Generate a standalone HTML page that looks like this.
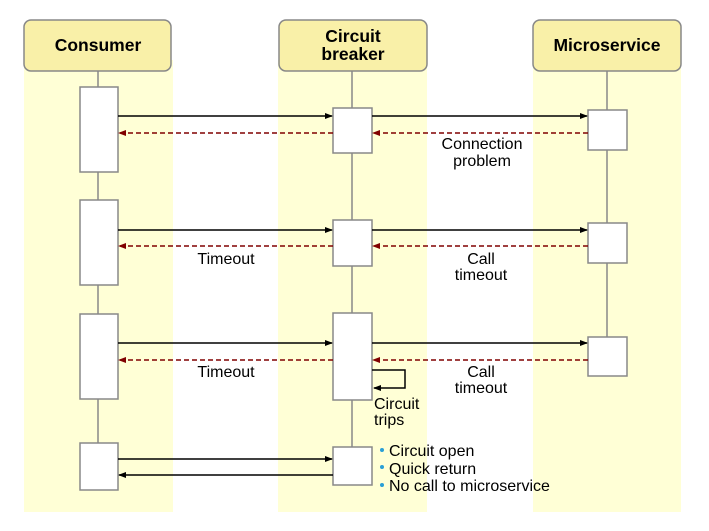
<!DOCTYPE html>
<html><head><meta charset="utf-8"><style>
html,body{margin:0;padding:0;background:#fff}
svg{display:block}
text{font-family:"Liberation Sans",sans-serif;font-size:16px;fill:#000}
.h{font-weight:bold;font-size:17.5px}
</style></head><body>
<svg width="709" height="531" viewBox="0 0 709 531" xmlns="http://www.w3.org/2000/svg">
<defs>
<marker id="a" markerWidth="8" markerHeight="8" refX="7" refY="4" orient="auto" markerUnits="userSpaceOnUse"><path d="M0,1 L8,4 L0,7 z" fill="#000"/></marker>
<marker id="r" markerWidth="8" markerHeight="8" refX="7" refY="4" orient="auto" markerUnits="userSpaceOnUse"><path d="M0,1 L8,4 L0,7 z" fill="#800000"/></marker>
</defs>
<rect x="24" y="60" width="149" height="452" fill="#ffffd6"/>
<rect x="278" y="60" width="149" height="452" fill="#ffffd6"/>
<rect x="533" y="60" width="148" height="452" fill="#ffffd6"/>
<g fill="#f9f0a8" stroke="#888" stroke-width="1.5">
<rect x="24" y="20" width="147" height="51" rx="7"/>
<rect x="279" y="20" width="148" height="51" rx="7"/>
<rect x="533" y="20" width="148" height="51" rx="7"/>
</g>
<text class="h" x="98" y="51" text-anchor="middle">Consumer</text>
<text class="h" x="353" y="42" text-anchor="middle">Circuit</text>
<text class="h" x="353" y="60" text-anchor="middle">breaker</text>
<text class="h" x="607" y="51" text-anchor="middle">Microservice</text>
<g stroke="#888" stroke-width="1.5">
<line x1="98" y1="71" x2="98" y2="443"/>
<line x1="352" y1="71" x2="352" y2="447"/>
<line x1="607" y1="71" x2="607" y2="337"/>
</g>
<g fill="#fff" stroke="#888" stroke-width="1.5">
<rect x="80" y="87" width="38" height="85"/>
<rect x="80" y="200" width="38" height="85"/>
<rect x="80" y="314" width="38" height="85"/>
<rect x="80" y="443" width="38" height="47"/>
<rect x="333" y="108" width="39" height="45"/>
<rect x="333" y="220" width="39" height="46"/>
<rect x="333" y="313" width="39" height="87"/>
<rect x="333" y="447" width="39" height="38"/>
<rect x="588" y="110" width="39" height="40"/>
<rect x="588" y="223" width="39" height="40"/>
<rect x="588" y="337" width="39" height="39"/>
</g>
<g stroke="#000" stroke-width="1.5" fill="none" marker-end="url(#a)">
<line x1="118" y1="116" x2="332" y2="116"/>
<line x1="372" y1="116" x2="587" y2="116"/>
<line x1="118" y1="230" x2="332" y2="230"/>
<line x1="372" y1="230" x2="587" y2="230"/>
<line x1="118" y1="343" x2="332" y2="343"/>
<line x1="372" y1="343" x2="587" y2="343"/>
<line x1="118" y1="459" x2="332" y2="459"/>
<line x1="333" y1="475" x2="119" y2="475"/>
<polyline points="372,370 405,370 405,388 374,388"/>
</g>
<g stroke="#800000" stroke-width="1.5" stroke-dasharray="5,3" fill="none" marker-end="url(#r)">
<line x1="333" y1="133" x2="119" y2="133"/>
<line x1="588" y1="133" x2="373" y2="133"/>
<line x1="333" y1="246" x2="119" y2="246"/>
<line x1="588" y1="246" x2="373" y2="246"/>
<line x1="333" y1="360" x2="119" y2="360"/>
<line x1="588" y1="360" x2="373" y2="360"/>
</g>
<text x="482" y="149" text-anchor="middle">Connection</text>
<text x="482" y="166" text-anchor="middle">problem</text>
<text x="226" y="264" text-anchor="middle">Timeout</text>
<text x="481" y="264" text-anchor="middle">Call</text>
<text x="481" y="280" text-anchor="middle">timeout</text>
<text x="226" y="377" text-anchor="middle">Timeout</text>
<text x="481" y="377" text-anchor="middle">Call</text>
<text x="481" y="393" text-anchor="middle">timeout</text>
<text x="374" y="409">Circuit</text>
<text x="374" y="425">trips</text>
<g fill="#2a9fd6"><circle cx="382" cy="450" r="2"/><circle cx="382" cy="467" r="2"/><circle cx="382" cy="485" r="2"/></g>
<text x="389" y="456">Circuit open</text>
<text x="389" y="474">Quick return</text>
<text x="389" y="491">No call to microservice</text>
</svg>
</body></html>
